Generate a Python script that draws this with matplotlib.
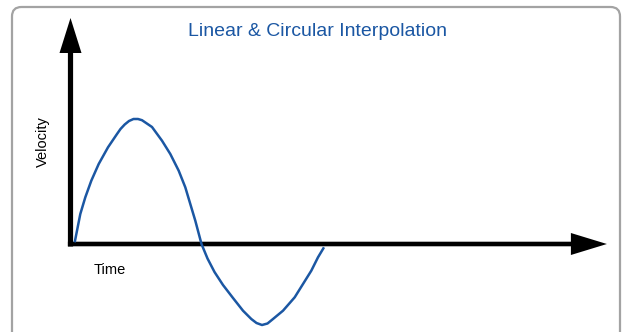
import numpy as np
import matplotlib
matplotlib.use("Agg")
import matplotlib.pyplot as plt
from matplotlib.patches import FancyBboxPatch

# velocity profile (time, velocity in arbitrary units)
time = [0.42, 0.65, 0.98, 1.48, 2.08, 2.82, 3.75, 4.65, 5.0, 5.42, 5.85, 6.3, 6.75,
        7.15, 8.15, 9.15, 9.98, 10.82, 11.48, 11.98, 12.48, 13.1,
        13.7, 14.4, 15.25, 16.25, 17.25, 18.08, 18.6, 19.15, 19.7,
        20.25, 21.25, 22.42, 23.25, 24.08, 24.75, 25.35]
velocity = [0.17, 1.33, 3.0, 4.67, 6.33, 8.0, 9.67, 11.0, 11.5, 11.95, 12.3, 12.5, 12.5,
            12.38, 11.7, 10.33, 9.0, 7.33, 5.67, 4.0, 2.33, 0.0,
            -1.45, -2.8, -4.1, -5.4, -6.67, -7.5, -7.9, -8.1, -7.95,
            -7.5, -6.67, -5.33, -4.0, -2.67, -1.33, -0.33]

TITLE = "Linear & Circular Interpolation"
BLUE = "#1b57a3"
FONT = ["Liberation Sans", "DejaVu Sans"]

fig = plt.figure(figsize=(6.29, 3.32), dpi=100)
fig.patch.set_facecolor("white")

# rounded frame, bottom runs off the picture
frame = FancyBboxPatch((12 / 629, -0.2), 608 / 629, (332 - 7) / 332 + 0.2,
                       boxstyle="round,pad=0,rounding_size=0.015",
                       transform=fig.transFigure, fc="none", ec="#a3a3a3", lw=1.6,
                       mutation_aspect=629 / 332, zorder=0)
fig.patches.append(frame)

ax = fig.add_axes([0, 0, 1, 1])
ax.set_xlim(-7.05, 55.85)
ax.set_ylim(-8.8, 24.4)
ax.axis("off")

# axes arrows
ax.arrow(0, -0.25, 0, 22.85, width=0.52, head_width=2.2, head_length=3.5,
         length_includes_head=True, color="black", lw=0)
ax.arrow(-0.26, 0, 53.9, 0, width=0.46, head_width=2.2, head_length=3.6,
         length_includes_head=True, color="black", lw=0)

ax.plot(time, velocity, color=BLUE, lw=1.8, solid_capstyle="butt",
        solid_joinstyle="round", zorder=3)

fig.text(318 / 629, 1 - 32 / 332, TITLE, color=BLUE, fontsize=14, family=FONT,
         ha="center", va="center")
fig.text(42.5 / 629, 1 - 142 / 332, "Velocity", rotation=90, fontsize=10.5,
         family=FONT, ha="center", va="center")
fig.text(110 / 629, 1 - 270 / 332, "Time", fontsize=10.5, family=FONT,
         ha="center", va="center")

fig.savefig("out.png", dpi=100)
